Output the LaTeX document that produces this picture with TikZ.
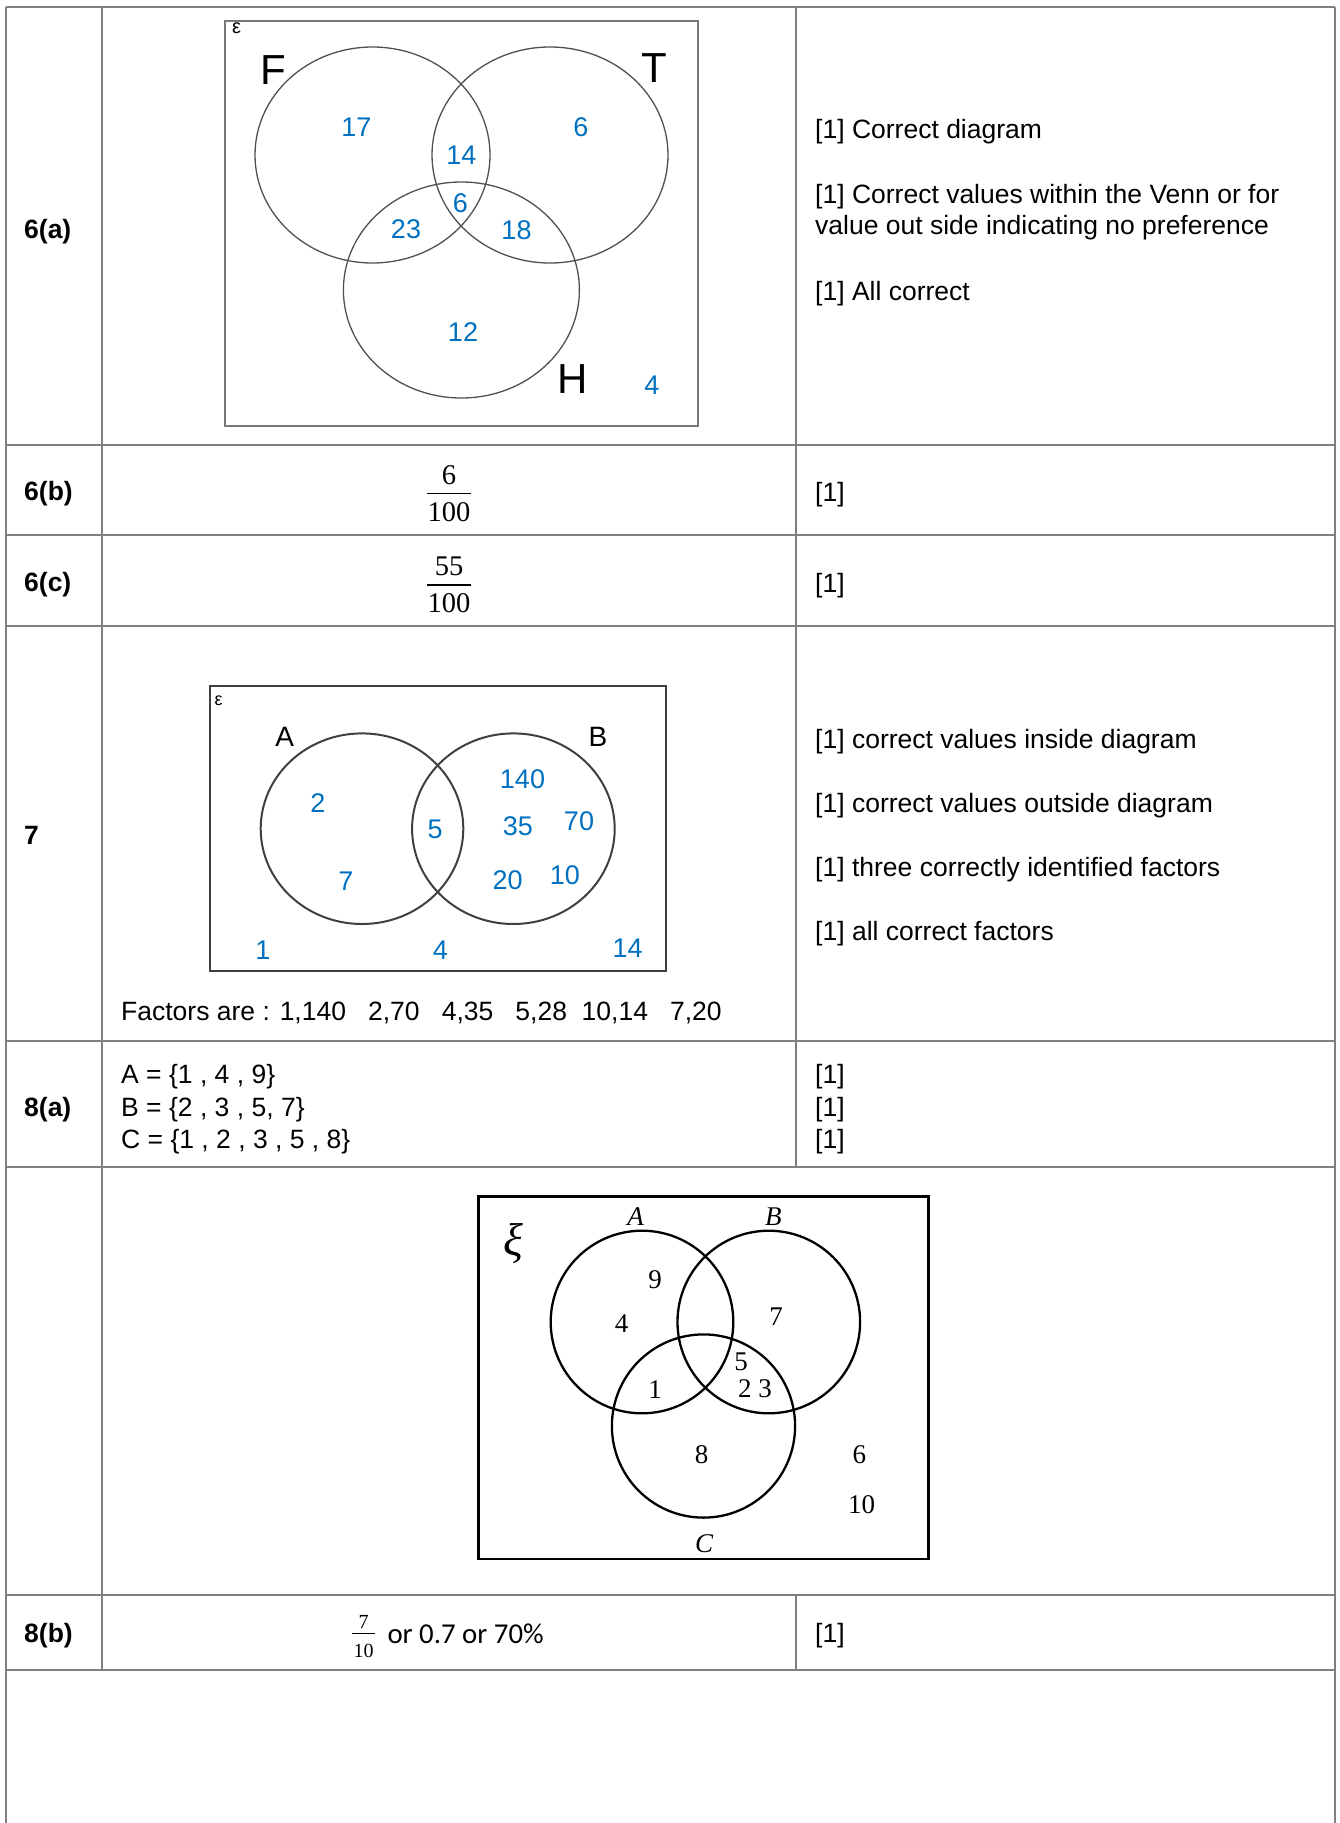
\documentclass[tikz,border=0pt]{standalone}
\usepackage{fontspec}
\setmainfont{Liberation Sans}
\newfontfamily\calfont{Carlito}
\newfontfamily\numserif{Liberation Serif}
\definecolor{ansblue}{RGB}{0,112,192}
\definecolor{gridgray}{RGB}{128,128,128}
\definecolor{venngray}{RGB}{80,80,80}
\definecolor{boxgray}{RGB}{120,120,120}
\definecolor{darkline}{RGB}{64,64,64}
\tikzset{
  gridline/.style={draw=gridgray, line width=2pt},
  cell/.style={inner sep=0pt, anchor=base west, font=\fontsize{26.5}{32}\selectfont},
  qlabel/.style={inner sep=0pt, anchor=base west, font=\fontsize{26.5}{32}\selectfont\bfseries},
  val/.style={inner sep=0pt, text=ansblue, font=\fontsize{27}{27}\selectfont},
  setname/.style={inner sep=0pt, font=\fontsize{42}{42}\selectfont},
  setnamesm/.style={inner sep=0pt, font=\fontsize{28}{28}\selectfont},
  eps/.style={inner sep=0pt, font=\fontsize{20}{20}\selectfont},
  serifnum/.style={inner sep=0pt, font=\numserif\fontsize{27}{27}\selectfont},
  serifname/.style={inner sep=0pt, font=\numserif\itshape\fontsize{27}{27}\selectfont},
  fracnum/.style={inner sep=0pt, font=\numserif\fontsize{28.5}{28.5}\selectfont},
  smallfrac/.style={inner sep=0pt, font=\numserif\fontsize{20}{20}\selectfont},
}
\begin{document}
\begin{tikzpicture}[x=1pt, y=-1pt]
\useasboundingbox (0,0) rectangle (1339,1823);
\fill[white] (0,0) rectangle (1339,1823);

% ---------- table grid ----------
\draw[gridline] (5.5,7) -- (1335,7);
\foreach \yy in {445,535,625.5,1040.5,1166.5,1595,1670}
  \draw[gridline] (5.5,\yy) -- (1335,\yy);
\draw[gridline] (5.5,7) -- (5.5,1823);
\draw[gridline] (1335,7) -- (1335,1823);
\draw[gridline] (102,7) -- (102,1670);
\draw[gridline] (796,7) -- (796,1166.5);
\draw[gridline] (796,1595) -- (796,1670);

% ---------- question labels ----------
\node[qlabel] (q6a) at (24,238) {6(a)};
\node[qlabel] (q6b) at (24,500) {6(b)};
\node[qlabel] (q6c) at (24,591.5) {6(c)};
\node[qlabel] (q7)  at (24,844) {7};
\node[qlabel] (q8a) at (24,1116) {8(a)};
\node[qlabel] (q8b) at (24,1642) {8(b)};

% ---------- 6(a): three-set Venn diagram ----------
\draw[draw=boxgray, line width=2pt] (224.5,20.5) rectangle (697.5,425.5);
\node[eps] (e6) at (236.7,28.7) {ε};
\draw[venngray, line width=1.3pt] (372.5,155) ellipse [x radius=117.5, y radius=108];
\draw[venngray, line width=1.3pt] (550,155) ellipse [x radius=118, y radius=108];
\draw[venngray, line width=1.3pt] (461.4,290) ellipse [x radius=118, y radius=108];
\node[setname] (nF) at (273.3,70) {F};
\node[setname] (nT) at (654,68) {T};
\node[setname] (nH) at (573,379) {H};
\node[val] (v17) at (356.5,127) {17};
\node[val] (v14) at (461.4,155) {14};
\node[val] (v6t) at (581,127) {6};
\node[val] (v6c) at (460.5,203) {6};
\node[val] (v23) at (406,229) {23};
\node[val] (v18) at (516.5,230) {18};
\node[val] (v12) at (463,332) {12};
\node[val] (v4)  at (652,385) {4};

\node[cell] (m6a1) at (815,138) {[1] Correct diagram};
\node[cell] (m6a2) at (815,203) {[1] Correct values within the Venn or for};
\node[cell] (m6a3) at (815,234) {value out side indicating no preference};
\node[cell] (m6a4) at (815,300) {[1] All correct};

% ---------- 6(b), 6(c): fractions ----------
\node[fracnum] (n6b) at (449,475) {6};
\node[fracnum] (d6b) at (449,512) {100};
\draw[line width=1.4pt] (427,493.5) -- (471,493.5);
\node[fracnum] (n6c) at (449,566) {55};
\node[fracnum] (d6c) at (449,603) {100};
\draw[line width=1.4pt] (427,585) -- (471,585);
\node[cell] (m6b) at (815,501) {[1]};
\node[cell] (m6c) at (815,592) {[1]};

% ---------- 7: two-set Venn diagram ----------
\draw[draw=darkline, line width=2pt] (209.7,686) rectangle (665.8,971);
\node[eps, font=\fontsize{18}{18}\selectfont] (e7) at (218.7,700.5) {ε};
\draw[darkline, line width=2pt] (362,828.7) ellipse [x radius=101.3, y radius=95.3];
\draw[darkline, line width=2pt] (513.4,828.7) ellipse [x radius=101.3, y radius=95.3];
\node[setnamesm] (nA7) at (284.7,737.3) {A};
\node[setnamesm] (nB7) at (598,737) {B};
\node[val] (w2)   at (317.9,802.7) {2};
\node[val] (w7)   at (345.9,881) {7};
\node[val] (w5)   at (435.2,829.3) {5};
\node[val] (w140) at (522.5,779) {140};
\node[val] (w35)  at (517.9,826) {35};
\node[val] (w70)  at (579,821) {70};
\node[val] (w20)  at (507.7,880) {20};
\node[val] (w10)  at (564.8,875) {10};
\node[val] (w1)   at (262.8,950) {1};
\node[val] (w4)   at (440.3,950) {4};
\node[val] (w14)  at (627.6,948.5) {14};
\node[cell] (fac) at (121,1020) {Factors are : 1,140~~~2,70~~~4,35~~~5,28~~10,14~~~7,20};

\node[cell] (m7a) at (815,748) {[1] correct values inside diagram};
\node[cell] (m7b) at (815,812) {[1] correct values outside diagram};
\node[cell] (m7c) at (815,876) {[1] three correctly identified factors};
\node[cell] (m7d) at (815,940) {[1] all correct factors};

% ---------- 8(a): set listings ----------
\node[cell] (sA) at (121,1083) {A = \{1 , 4 , 9\}};
\node[cell] (sB) at (121,1116) {B = \{2 , 3 , 5, 7\}};
\node[cell] (sC) at (121,1148) {C = \{1 , 2 , 3 , 5 , 8\}};
\node[cell] (m8a1) at (815,1083) {[1]};
\node[cell] (m8a2) at (815,1116) {[1]};
\node[cell] (m8a3) at (815,1148) {[1]};

% ---------- 8: three-set Venn diagram ----------
\draw[line width=2.7pt] (478.3,1196.7) rectangle (928.3,1559);
\node[inner sep=0pt, font=\numserif\itshape\fontsize{46}{46}\selectfont] (xi) at (513.3,1243.3) {ξ};
\draw[line width=2.3pt] (642,1322) circle [radius=91.3];
\draw[line width=2.3pt] (768.8,1322) circle [radius=91.3];
\draw[line width=2.3pt] (703.5,1426) circle [radius=91.6];
\node[serifname] (lA) at (635.7,1216.7) {A};
\node[serifname] (lB) at (773.3,1216.7) {B};
\node[serifname] (lC) at (704,1543.3) {C};
\node[serifnum] (u9)  at (655,1280) {9};
\node[serifnum] (u4)  at (621.7,1324) {4};
\node[serifnum] (u7)  at (776,1316.7) {7};
\node[serifnum] (u5)  at (741,1361.7) {5};
\node[serifnum] (u23) at (755,1388.3) {2 3};
\node[serifnum] (u1)  at (655,1390) {1};
\node[serifnum] (u8)  at (701.7,1455) {8};
\node[serifnum] (u6)  at (859.3,1455) {6};
\node[serifnum] (u10) at (861.7,1505) {10};

% ---------- 8(b) ----------
\node[smallfrac] (n8b) at (363.5,1621.5) {7};
\node[smallfrac] (d8b) at (363.5,1651) {10};
\draw[line width=1.3pt] (352,1633.3) -- (375,1633.3);
\node[inner sep=0pt, anchor=base west, font=\calfont\fontsize{28.8}{30}\selectfont] (alt8b) at (387.3,1643.3) {or 0.7 or 70\%};
\node[cell] (m8b) at (815,1642.5) {[1]};
\end{tikzpicture}
\end{document}
